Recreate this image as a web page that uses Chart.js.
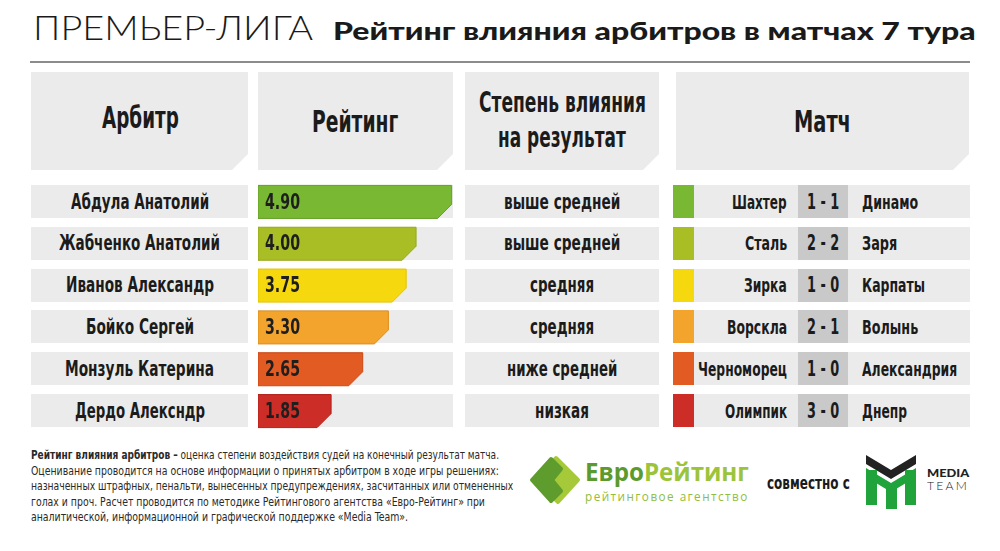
<!DOCTYPE html>
<html><head><meta charset="utf-8">
<script src="https://cdn.jsdelivr.net/npm/chart.js@4.4.1/dist/chart.umd.min.js"></script>
<style>
html,body{margin:0;padding:0;background:#fff;width:1000px;height:551px;overflow:hidden;position:relative}
.box{position:absolute;background:#ebebeb}
.cut{clip-path:polygon(0 0,100% 0,100% calc(100% - 16px),calc(100% - 16px) 100%,0 100%)}
.t{position:absolute;white-space:nowrap;line-height:1;transform-origin:0 50%}
#chartWrap{position:absolute;left:258px;top:180.6px;width:196px;height:251px}
svg{position:absolute;left:0;top:0}
</style></head>
<body>
<div id="chartWrap"><canvas id="c" width="196" height="251"></canvas></div>
<script>
// ---- data ----
const referees = ['Абдула Анатолий','Жабченко Анатолий','Иванов Александр','Бойко Сергей','Монзуль Катерина','Дердо Алексндр'];
const ratings = [4.90, 4.00, 3.75, 3.30, 2.65, 1.85];
const influence = ['выше средней','выше средней','средняя','средняя','ниже средней','низкая'];
const homeTeams = ['Шахтер','Сталь','Зирка','Ворскла','Черноморец','Олимпик'];
const scores = ['1 - 1','2 - 2','1 - 0','2 - 1','1 - 0','3 - 0'];
const awayTeams = ['Динамо','Заря','Карпаты','Волынь','Александрия','Днепр'];
const headers = ['Арбитр','Рейтинг','Степень влияния','на результат','Матч'];
// ---- styles ----
const barColors = ['#78b833','#a9bd25','#f6d80e','#f3a42c','#e25b22','#cc2d26'];
const barEdges  = ['#64a028','#95a81c','#e2c400','#e08f1a','#cc4714','#b41f1a'];

const NARROW = '"Liberation Sans Narrow","Arial Narrow","DejaVu Sans Condensed",sans-serif';
function T(html, o){
  const s=document.createElement('div'); s.className='t'; s.innerHTML=html;
  s.style.font=(o.weight||'bold')+' '+(o.size||20)+'px '+(o.family||NARROW);
  s.style.color=o.color||'#1b1b1b';
  if(o.ls) s.style.letterSpacing=o.ls+'px';
  document.body.appendChild(s);
  const w0=s.offsetWidth, h=s.offsetHeight;
  const sx=o.w? o.w/w0 : 1, W=w0*sx;
  const left=o.align==='center'? o.x-W/2 : o.align==='right'? o.x-W : o.x;
  s.style.left=left+'px'; s.style.top=(o.y-h/2)+'px';
  s.style.transform='scaleX('+sx+')';
  return s;
}
function B(x,y,w,h,cls,color){
  const d=document.createElement('div'); d.className='box'+(cls?' '+cls:'');
  d.style.left=x+'px'; d.style.top=y+'px'; d.style.width=w+'px'; d.style.height=h+'px';
  if(color) d.style.background=color;
  document.body.insertBefore(d, document.getElementById('chartWrap'));
  return d;
}

// title
T('ПРЕМЬЕР-ЛИГА',{x:33,y:27,w:280,size:33,weight:300,family:'Lato,"Open Sans",sans-serif',color:'#1a1a1a'});
T('Рейтинг влияния арбитров в матчах 7 тура',{x:333,y:30,w:642,size:25,weight:900,family:'Lato,"DejaVu Sans",sans-serif',color:'#1a1a1a'});
const line=document.createElement('div');
line.style.cssText='position:absolute;left:30px;top:61px;width:940px;height:2px;background:#8c8c8c';
document.body.appendChild(line);

// header cells
B(31,72,217,98,'cut'); B(258,72,195,98,'cut'); B(465,72,194,98,'cut'); B(676,72,293,98,'cut');
T(headers[0],{x:140,y:117,w:77,size:31,align:'center'});
T(headers[1],{x:355,y:121,w:86,size:31,align:'center'});
T(headers[2],{x:562,y:102,w:167,size:29,align:'center'});
T(headers[3],{x:562,y:137,w:128,size:29,align:'center'});
T(headers[4],{x:822,y:121,w:57,size:31,align:'center'});

// rows
const pitch=41.8, rowH=33, firstC=201.5;
const nameW=[138,161,148,108,149,130];
const inflW={'выше средней':116,'средняя':64,'ниже средней':110,'низкая':54};
const homeW=[55,42,43,60,89,62];
const awayW=[56,35,63,56,95,45];
referees.forEach((r,i)=>{
  const cy=firstC+i*pitch, top=cy-rowH/2;
  B(31,top,217,rowH); B(258,top,195,rowH); B(465,top,194,rowH);
  B(673,top,21,rowH,null,barColors[i]); B(694,top,276,rowH); B(798,top,50,rowH,null,'#c9c9c9');
  T(r,{x:139.5,y:cy,w:nameW[i],size:21,align:'center'});
  T(influence[i],{x:562,y:cy,w:inflW[influence[i]],size:21,align:'center'});
  T(homeTeams[i],{x:787,y:cy,w:homeW[i],size:20,align:'right'});
  T(scores[i],{x:823,y:cy,w:32,size:21,align:'center'});
  T(awayTeams[i],{x:862,y:cy,w:awayW[i],size:20});
});

// footer
const foot=['<b>Рейтинг влияния арбитров –</b> оценка степени воздействия судей на конечный результат матча.',
'Оценивание проводится на основе информации о принятых арбитром в ходе игры решениях:',
'назначенных штрафных, пенальти, вынесенных предупреждениях, засчитанных или отмененных',
'голах и проч. Расчет проводится по методике Рейтингового агентства «Евро-Рейтинг» при',
'аналитической, информационной и графической поддержке «Media Team».'];
const footW=[468,468,482,454,377];
foot.forEach((l,i)=>T(l,{x:31,y:454.5+i*15.5,w:footW[i],size:13,weight:'normal',color:'#2a2a2a'}));

// logos text
T('<span style="color:#5d9a2d">Евро</span><span style="color:#9cc43a">Рейтинг</span>',{x:585,y:471,w:164,size:25,weight:'bold',family:'"Open Sans",Roboto,sans-serif'});
T('рейтинговое агентство',{x:585,y:496,w:164,size:12,weight:'normal',family:'"Open Sans",Roboto,sans-serif',color:'#8fbe3a',ls:1.5});
T('совместно с',{x:767,y:482,w:83,size:18});
T('MEDIA',{x:927,y:472,w:42,size:11,weight:900,family:'Lato,sans-serif',color:'#222'});
T('TEAM',{x:927,y:485,w:42,size:11,weight:300,family:'Lato,sans-serif',color:'#222',ls:2});

// svg logos
document.body.insertAdjacentHTML('beforeend',`<svg width="1000" height="551">
<g stroke-linejoin="round" stroke-width="4">
<polygon points="556,458 578,480 558,502 547,491 556,480 547,469" fill="#a6c93a" stroke="#a6c93a"/>
<polygon points="532,480 551,459 561,469 552,480 561,491 551,501" fill="#5e9c2e" stroke="#5e9c2e"/>
</g>
<polygon points="866,455 891,470 916,455 916,464 891,479 866,464" fill="#222"/>
<polygon points="866,468 891,483 916,468 916,477 891,492 866,477" fill="#1fa33a"/>
<rect x="866" y="470" width="11" height="35" fill="#1fa33a"/>
<rect x="905" y="470" width="11" height="35" fill="#1fa33a"/>
<rect x="886" y="486" width="11" height="23" fill="#1fa33a"/>
</svg>`);

// ---- chart ----
const slantBars={
  id:'slantBars',
  beforeDatasetDraw(chart,args){
    const ctx=chart.ctx, ds=chart.data.datasets[args.index];
    args.meta.data.forEach((el,i)=>{
      const p=el.getProps(['x','y','base','height'],true);
      const l=p.base, r=p.x, t=p.y-p.height/2, b=p.y+p.height/2, c=14;
      ctx.beginPath(); ctx.moveTo(l,t); ctx.lineTo(r,t); ctx.lineTo(r,b-c); ctx.lineTo(r-c,b); ctx.lineTo(l,b); ctx.closePath();
      ctx.fillStyle=ds.backgroundColor[i]; ctx.fill();
      ctx.strokeStyle=ds.borderColor[i]; ctx.lineWidth=1; ctx.stroke();
    });
    return false;
  },
  afterDatasetsDraw(chart){
    const ctx=chart.ctx, meta=chart.getDatasetMeta(0);
    ctx.save();
    ctx.font='bold 22px '+NARROW; ctx.fillStyle='#1e1e1e'; ctx.textBaseline='middle';
    meta.data.forEach((el,i)=>{
      const txt=ratings[i].toFixed(2), sx=35/ctx.measureText(txt).width;
      ctx.save(); ctx.translate(el.base+7, el.y+1); ctx.scale(sx,1); ctx.fillText(txt,0,0); ctx.restore();
    });
    ctx.restore();
  }
};
new Chart(document.getElementById('c'),{
  type:'bar',
  data:{labels:referees,datasets:[{data:ratings,backgroundColor:barColors,borderColor:barEdges,barPercentage:33/41.8,categoryPercentage:1}]},
  options:{indexAxis:'y',responsive:false,animation:false,events:[],
    layout:{padding:0},
    plugins:{legend:{display:false},tooltip:{enabled:false}},
    scales:{x:{display:false,min:0,max:4.96},y:{display:false}}},
  plugins:[slantBars]
});
</script>
</body></html>
